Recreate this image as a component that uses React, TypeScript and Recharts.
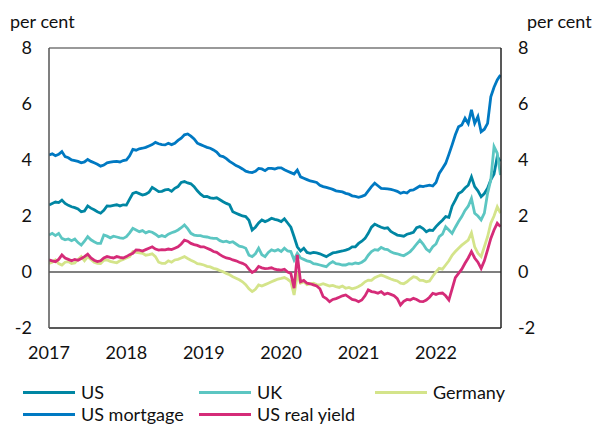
import React from "react";
import { LineChart, Line, XAxis, YAxis, ReferenceLine } from "recharts";

// semi-monthly observations from Jan 2017 to early Nov 2022 (141 points)
const usMortgage = [
  4.18, 4.22, 4.15, 4.2, 4.3, 4.12, 4.08, 4.0, 3.98, 3.95, 3.9, 3.93,
  4.02, 3.95, 3.9, 3.85, 3.78, 3.82, 3.9, 3.92, 3.94, 3.95, 3.93, 3.98,
  4.0, 4.15, 4.38, 4.35, 4.4, 4.42, 4.45, 4.5, 4.55, 4.63, 4.58, 4.55,
  4.54, 4.6, 4.55, 4.6, 4.7, 4.78, 4.9, 4.93, 4.85, 4.75, 4.6, 4.55,
  4.5, 4.45, 4.42, 4.36, 4.28, 4.15, 4.12, 4.05, 3.95, 3.88, 3.8, 3.75,
  3.68, 3.6, 3.57, 3.55, 3.6, 3.7, 3.68, 3.62, 3.7, 3.7, 3.68, 3.72,
  3.72, 3.65, 3.6, 3.55, 3.5, 3.64, 3.4, 3.35, 3.3, 3.25, 3.23, 3.2,
  3.1, 3.05, 3.02, 2.99, 2.95, 2.9, 2.88, 2.86, 2.81, 2.78, 2.72, 2.7,
  2.67, 2.7, 2.75, 2.9, 3.05, 3.17, 3.08, 2.99, 2.98, 2.97, 2.95, 2.92,
  2.88, 2.81, 2.85, 2.82, 2.92, 2.93, 3.0, 3.07, 3.05, 3.08, 3.1, 3.07,
  3.2, 3.52, 3.7, 3.88, 4.2, 4.54, 4.9, 5.19, 5.25, 5.49, 5.3, 5.79,
  5.31, 5.55, 5.01, 5.1, 5.31, 6.26, 6.6, 6.86, 7.04,
];

const us = [
  2.39, 2.45, 2.5, 2.48, 2.57, 2.45, 2.38, 2.33, 2.3, 2.25, 2.15, 2.18,
  2.36, 2.28, 2.22, 2.15, 2.1, 2.2, 2.36, 2.35, 2.38, 2.4, 2.36, 2.4,
  2.39, 2.6, 2.81, 2.85, 2.8, 2.75, 2.78, 2.85, 3.02, 2.95, 2.87, 2.88,
  2.93, 2.95, 2.88, 2.99, 3.05, 3.2, 3.23, 3.18, 3.15, 3.05, 2.9, 2.78,
  2.69, 2.7, 2.65, 2.63, 2.65, 2.58, 2.51, 2.45, 2.4, 2.15, 2.1, 2.05,
  2.0, 1.98, 1.85, 1.5, 1.6, 1.75, 1.86, 1.8, 1.85, 1.92, 1.88, 1.85,
  1.8, 1.9, 1.75, 1.6, 1.26, 0.9, 0.75, 0.85, 0.7, 0.67, 0.7, 0.68,
  0.65, 0.6, 0.55, 0.62, 0.68, 0.7, 0.73, 0.75, 0.78, 0.82, 0.9, 0.9,
  1.02, 1.1, 1.2, 1.38, 1.6, 1.71, 1.65, 1.6, 1.56, 1.58, 1.45, 1.38,
  1.32, 1.3, 1.28, 1.35, 1.38, 1.42, 1.58, 1.62, 1.55, 1.44, 1.5, 1.48,
  1.62, 1.74, 1.85, 1.98, 1.95, 2.35, 2.57, 2.8, 2.87, 3.0, 3.1, 3.4,
  3.05, 2.9, 2.69, 2.8, 2.99, 3.29, 3.5, 4.12, 3.95,
];

const uk = [
  1.32, 1.38, 1.3, 1.38, 1.2, 1.15, 1.18, 1.12, 1.18, 1.05, 0.96, 1.1,
  1.26, 1.15, 1.08, 1.02, 1.02, 1.32, 1.28, 1.22, 1.28, 1.25, 1.22, 1.2,
  1.26, 1.4, 1.56, 1.5, 1.44, 1.48, 1.4, 1.45, 1.42, 1.35, 1.26, 1.3,
  1.26, 1.35, 1.4, 1.44, 1.5, 1.58, 1.68, 1.55, 1.38, 1.32, 1.3, 1.3,
  1.26, 1.25, 1.22, 1.2, 1.2, 1.12, 1.08, 1.1, 1.05, 1.08, 1.0, 0.92,
  0.9, 0.85, 0.6, 0.55, 0.65, 0.85, 0.62, 0.55, 0.7, 0.79, 0.75, 0.8,
  0.73, 0.85, 0.75, 0.73, 0.43, 0.67, 0.5, 0.45, 0.4, 0.37, 0.3, 0.28,
  0.25, 0.22, 0.19, 0.3, 0.37, 0.3, 0.28, 0.25, 0.25, 0.3, 0.28, 0.32,
  0.3, 0.35, 0.43, 0.6, 0.73, 0.8, 0.78, 0.88, 0.82, 0.8, 0.72, 0.67,
  0.65, 0.61, 0.58, 0.65, 0.73, 0.85, 1.0, 1.14, 1.0, 0.82, 0.73, 0.9,
  1.0, 1.26, 1.35, 1.62, 1.5, 1.38, 1.6, 1.8, 1.98, 2.2, 2.35, 2.63,
  2.1, 2.0, 1.86, 2.1, 2.81, 3.29, 4.48, 4.24, 3.46,
];

const germany = [
  0.31, 0.35, 0.43, 0.3, 0.25, 0.35, 0.37, 0.3, 0.32, 0.45, 0.55, 0.4,
  0.55, 0.45, 0.35, 0.31, 0.3, 0.42, 0.43, 0.38, 0.35, 0.33, 0.4, 0.45,
  0.5, 0.55, 0.73, 0.7, 0.68, 0.67, 0.6, 0.62, 0.65, 0.55, 0.35, 0.31,
  0.31, 0.4, 0.35, 0.43, 0.45, 0.5, 0.55, 0.48, 0.42, 0.37, 0.3, 0.28,
  0.25, 0.2, 0.18, 0.13, 0.1, 0.05, 0.01, -0.05, -0.1, -0.17, -0.22, -0.28,
  -0.35, -0.45, -0.6, -0.7, -0.62, -0.46, -0.5, -0.45, -0.4, -0.35, -0.3, -0.25,
  -0.23, -0.2, -0.26, -0.35, -0.82, -0.1, -0.4, -0.35, -0.45, -0.42, -0.4, -0.45,
  -0.46, -0.42, -0.46, -0.5, -0.48, -0.52, -0.55, -0.5, -0.58, -0.55, -0.6, -0.57,
  -0.52, -0.45, -0.35, -0.29, -0.3, -0.2, -0.15, -0.11, -0.15, -0.2, -0.25, -0.29,
  -0.32, -0.4, -0.42, -0.35, -0.25, -0.17, -0.2, -0.3, -0.3, -0.35, -0.32, -0.15,
  0.0, 0.13, 0.1, 0.25, 0.4, 0.6, 0.73, 0.85, 0.96, 1.05, 1.14, 1.4,
  0.9, 0.67, 0.55, 0.9, 1.26, 1.74, 2.0, 2.33, 2.1,
];

const usRealYield = [
  0.43, 0.4, 0.37, 0.45, 0.61, 0.5, 0.45, 0.4, 0.45, 0.42, 0.48, 0.55,
  0.64, 0.5, 0.42, 0.37, 0.4, 0.5, 0.55, 0.52, 0.5, 0.55, 0.52, 0.5,
  0.55, 0.62, 0.67, 0.79, 0.78, 0.75, 0.8, 0.85, 0.9, 0.82, 0.78, 0.8,
  0.79, 0.82, 0.8, 0.85, 0.9, 1.0, 1.14, 1.1, 1.02, 0.98, 0.95, 0.9,
  0.9, 0.85, 0.8, 0.73, 0.7, 0.62, 0.55, 0.5, 0.48, 0.43, 0.4, 0.35,
  0.31, 0.25, 0.1, -0.02, 0.05, 0.2, 0.15, 0.12, 0.13, 0.15, 0.1, 0.08,
  0.07, 0.1, 0.0, -0.05, -0.58, 0.61, -0.35, -0.3, -0.4, -0.42, -0.46, -0.5,
  -0.6, -0.88, -0.95, -1.06, -0.98, -0.95, -0.9, -0.85, -0.82, -0.9, -0.98, -1.0,
  -1.06, -1.0, -0.85, -0.64, -0.7, -0.72, -0.76, -0.7, -0.8, -0.76, -0.8, -0.85,
  -0.95, -1.18, -1.05, -0.98, -1.0, -0.94, -0.98, -1.05, -1.06, -1.0, -0.9, -0.76,
  -0.8, -0.76, -0.75, -0.85, -1.0, -0.6, -0.2, -0.05, 0.1, 0.31, 0.5, 0.73,
  0.5, 0.35, 0.13, 0.4, 0.79, 1.2, 1.5, 1.74, 1.62,
];

const yearTicks = [2017, 2018, 2019, 2020, 2021, 2022];
const valueTicks = [-2, 0, 2, 4, 6, 8];
const startYear = 2017;
const obsPerYear = 24;

const data = usMortgage.map((v, i) => ({
  t: startYear + i / obsPerYear,
  usMortgage: v,
  us: us[i],
  uk: uk[i],
  germany: germany[i],
  usRealYield: usRealYield[i],
}));

const series = [
  { key: "us", name: "US", color: "#0086A3", axis: "left" },
  { key: "uk", name: "UK", color: "#5CC6C2", axis: "left" },
  { key: "germany", name: "Germany", color: "#D4E48A", axis: "left" },
  { key: "usMortgage", name: "US mortgage", color: "#0079C2", axis: "right" },
  { key: "usRealYield", name: "US real yield", color: "#D52B78", axis: "left" },
];

const FONT = "Lato, 'Open Sans', sans-serif";
const tickStyle = { fontSize: 18, fill: "#111", fontFamily: FONT };

const legendPos = [
  { left: 23, top: 392 },
  { left: 199, top: 392 },
  { left: 375, top: 392 },
  { left: 23, top: 414 },
  { left: 199, top: 414 },
];

export default function App() {
  return (
    <div style={{ position: "absolute", left: 0, top: 0, width: 594, height: 424, background: "#fff", fontFamily: FONT }}>
      <div style={{ position: "absolute", left: 10, top: 10, fontSize: 18, lineHeight: "22px", color: "#111" }}>per cent</div>
      <div style={{ position: "absolute", left: 527, top: 10, fontSize: 18, lineHeight: "22px", color: "#111" }}>per cent</div>
      <LineChart width={594} height={424} data={data} margin={{ top: 48, right: 0, bottom: 66, left: 0 }}>
        <XAxis
          dataKey="t"
          type="number"
          domain={[2017, 2022.84]}
          allowDataOverflow
          ticks={yearTicks}
          tickFormatter={(v) => String(Math.round(v))}
          tick={tickStyle}
          tickLine={false}
          tickSize={0}
          tickMargin={18}
          height={30}
          axisLine={{ stroke: "#222", strokeWidth: 1.5 }}
        />
        <YAxis
          yAxisId="left"
          orientation="left"
          domain={[-2, 8]}
          allowDataOverflow
          ticks={valueTicks}
          tick={tickStyle}
          tickLine={false}
          tickSize={0}
          tickMargin={17}
          width={49}
          axisLine={{ stroke: "#555", strokeWidth: 1.5 }}
        />
        <YAxis
          yAxisId="right"
          orientation="right"
          domain={[-2, 8]}
          allowDataOverflow
          ticks={valueTicks}
          tick={tickStyle}
          tickLine={false}
          tickSize={0}
          tickMargin={17}
          width={93}
          axisLine={{ stroke: "#222", strokeWidth: 1.5 }}
        />
        <ReferenceLine yAxisId="left" y={8} stroke="#777" strokeWidth={1.5} />
        <ReferenceLine yAxisId="left" y={0} stroke="#000" strokeWidth={1.2} />
        {series.map((s) => (
          <Line
            key={s.key}
            yAxisId={s.axis}
            type="linear"
            dataKey={s.key}
            name={s.name}
            stroke={s.color}
            strokeWidth={2.8}
            dot={false}
            isAnimationActive={false}
          />
        ))}
      </LineChart>
      {series.map((s, i) => (
        <div
          key={s.key}
          style={{
            position: "absolute",
            left: legendPos[i].left,
            top: legendPos[i].top - 11,
            height: 22,
            display: "flex",
            alignItems: "center",
            fontSize: 18,
            color: "#111",
            whiteSpace: "nowrap",
          }}
        >
          <span style={{ display: "inline-block", width: 52, height: 3, background: s.color, marginRight: 6 }} />
          <span style={{ lineHeight: "22px" }}>{s.name}</span>
        </div>
      ))}
    </div>
  );
}
